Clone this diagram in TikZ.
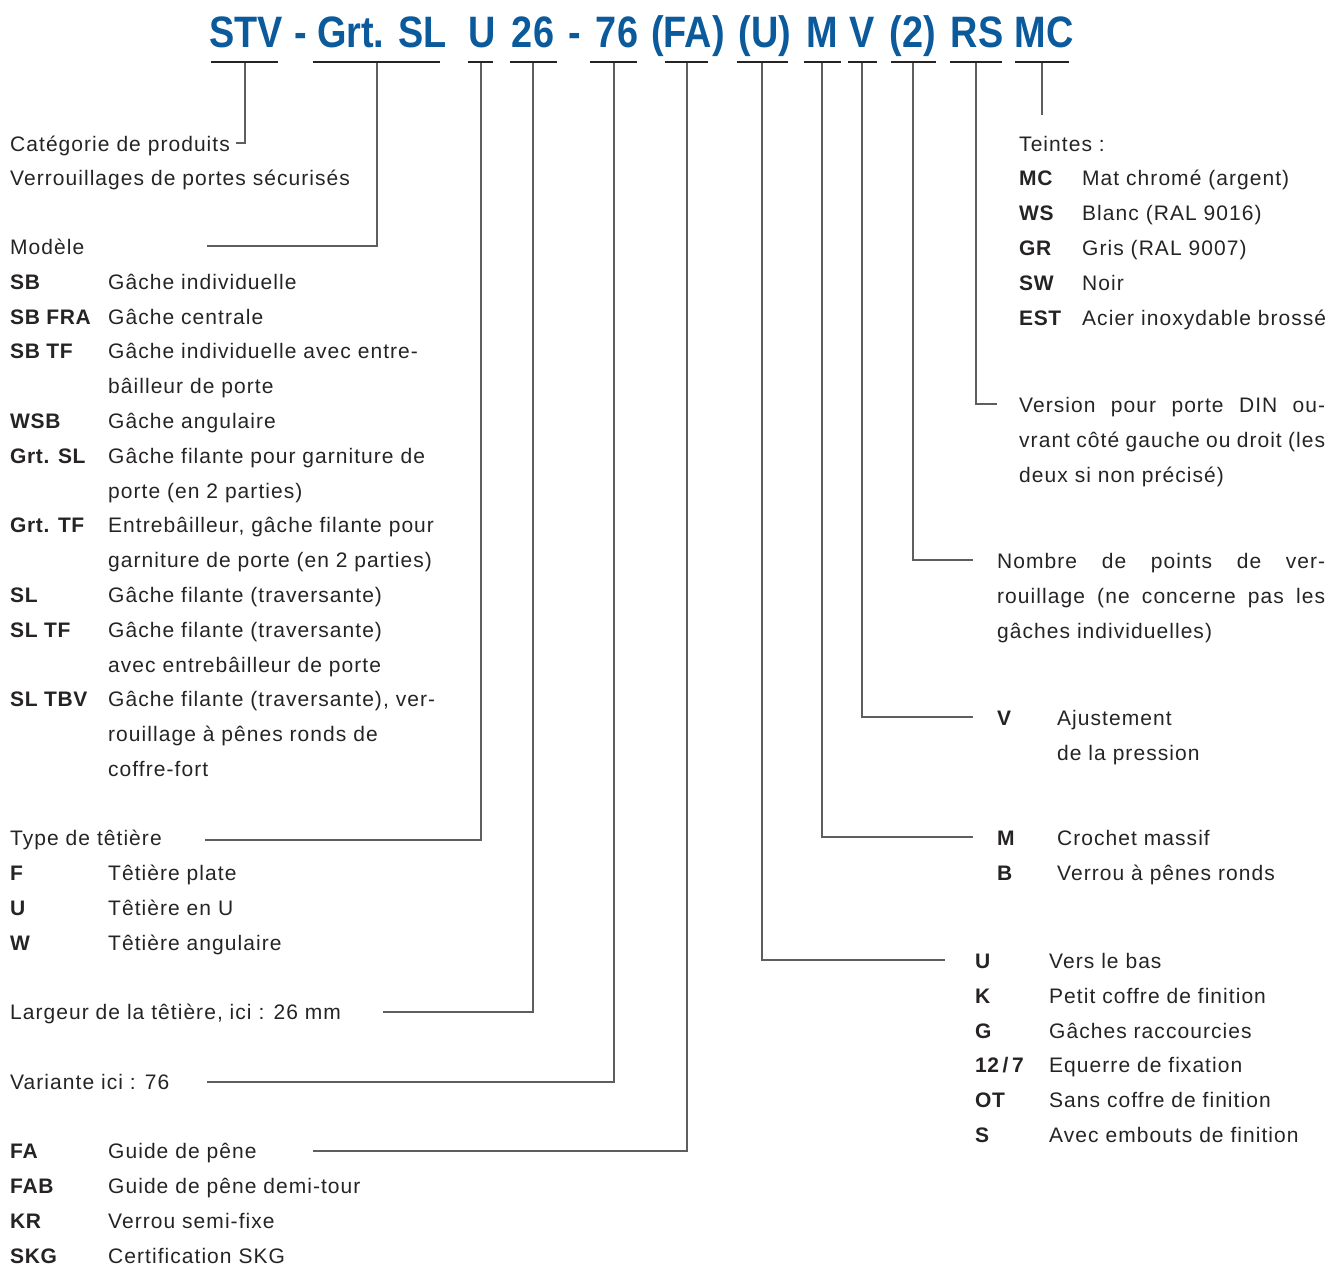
\documentclass[tikz,border=0pt]{standalone}
\usepackage{fontspec}
\setmainfont{Liberation Sans}[LetterSpace=5]
\newfontfamily\codefont{Liberation Sans}[LetterSpace=3]
\newfontfamily\titlefont{Liberation Sans}[FakeStretch=0.86]
\definecolor{tblue}{HTML}{0A5A9C}
\definecolor{txt}{HTML}{262324}
\definecolor{ln}{HTML}{5E5E5E}
\tikzset{
  lbl/.style={anchor=base west, inner sep=0pt, font=\fontsize{21}{25}\selectfont, text=txt},
  code/.style={lbl, font=\codefont\fontsize{21}{25}\selectfont\bfseries},
  ttl/.style={anchor=base, inner sep=0pt, font=\titlefont\fontsize{44}{48}\selectfont\bfseries, text=tblue},
  uline/.style={line width=2.8pt, draw=txt},
  conn/.style={line width=1.2pt, draw=ln}
}
\newcommand{\jl}[2]{\makebox[#1pt][s]{#2}}
\begin{document}
\begin{tikzpicture}[x=1pt,y=-1pt]
\useasboundingbox (0,0) rectangle (1328,1266);
% ---------- title ----------
\node[ttl] (tSTV) at (246,47) {STV};
\node[ttl] (tD1) at (301,47) {-};
\node[ttl] (tGrt) at (382,47) {Grt. SL};
\node[ttl] (tU) at (482,47) {U};
\node[ttl] (t26) at (533,47) {26};
\node[ttl] (tD2) at (575,47) {-};
\node[ttl] (t76) at (617,47) {76};
\node[ttl] (tFA) at (688,47) {(FA)};
\node[ttl] (tUU) at (765,47) {(U)};
\node[ttl] (tM) at (822,47) {M};
\node[ttl] (tV) at (862,47) {V};
\node[ttl] (t2) at (913,47) {(2)};
\node[ttl] (tRS) at (977,47) {RS};
\node[ttl] (tMC) at (1044,47) {MC};
% underlines
\draw[uline] (211,62) -- (278,62);
\draw[uline] (313,62) -- (440,62);
\draw[uline] (468,62) -- (493,62);
\draw[uline] (510,62) -- (557,62);
\draw[uline] (590,62) -- (637,62);
\draw[uline] (665,62) -- (708,62);
\draw[uline] (737,62) -- (788,62);
\draw[uline] (804,62) -- (841,62);
\draw[uline] (848,62) -- (877,62);
\draw[uline] (891,62) -- (936,62);
\draw[uline] (950,62) -- (1002,62);
\draw[uline] (1015,62) -- (1069,62);
% connector start points
\coordinate (cSTV) at (245,63.4);
\coordinate (cGrt) at (377,63.4);
\coordinate (cU) at (481,63.4);
\coordinate (c26) at (533,63.4);
\coordinate (c76) at (614,63.4);
\coordinate (cFA) at (687,63.4);
\coordinate (cUU) at (762,63.4);
\coordinate (cM) at (822,63.4);
\coordinate (cV) at (862,63.4);
\coordinate (c2) at (913,63.4);
\coordinate (cRS) at (976,63.4);
\coordinate (cMC) at (1042,63.4);
% ---------- left column ----------
\node[lbl] (cat1) at (10,151) {Catégorie de produits};
\node[lbl] (cat2) at (10,185) {Verrouillages de portes sécurisés};
\node[lbl] (mod) at (10,254) {Modèle};
\node[code] (kSB) at (10,289) {SB};         \node[lbl] (dSB) at (108,289) {Gâche individuelle};
\node[code] (kSBF) at (10,324) {SB FRA};    \node[lbl] (dSBF) at (108,324) {Gâche centrale};
\node[code] (kSBT) at (10,358) {SB TF};     \node[lbl] (dSBT) at (108,358) {Gâche individuelle avec entre-};
                                            \node[lbl] (dSBT2) at (108,393) {bâilleur de porte};
\node[code] (kWSB) at (10,428) {WSB};       \node[lbl] (dWSB) at (108,428) {Gâche angulaire};
\node[code] (kGSL) at (10,463) {Grt. SL};   \node[lbl] (dGSL) at (108,463) {Gâche filante pour garniture de};
                                            \node[lbl] (dGSL2) at (108,498) {porte (en 2 parties)};
\node[code] (kGTF) at (10,532) {Grt. TF};   \node[lbl] (dGTF) at (108,532) {Entrebâilleur, gâche filante pour};
                                            \node[lbl] (dGTF2) at (108,567) {garniture de porte (en 2 parties)};
\node[code] (kSL) at (10,602) {SL};         \node[lbl] (dSL) at (108,602) {Gâche filante (traversante)};
\node[code] (kSLT) at (10,637) {SL TF};     \node[lbl] (dSLT) at (108,637) {Gâche filante (traversante)};
                                            \node[lbl] (dSLT2) at (108,672) {avec entrebâilleur de porte};
\node[code] (kSLB) at (10,706) {SL TBV};    \node[lbl] (dSLB) at (108,706) {Gâche filante (traversante), ver-};
                                            \node[lbl] (dSLB2) at (108,741) {rouillage à pênes ronds de};
                                            \node[lbl] (dSLB3) at (108,776) {coffre-fort};
\node[lbl] (typ) at (10,845) {Type de têtière};
\node[code] (kF) at (10,880) {F};           \node[lbl] (dF) at (108,880) {Têtière plate};
\node[code] (kU) at (10,915) {U};           \node[lbl] (dU) at (108,915) {Têtière en U};
\node[code] (kW) at (10,950) {W};           \node[lbl] (dW) at (108,950) {Têtière angulaire};
\node[lbl] (larg) at (10,1019) {Largeur de la têtière, ici : 26 mm};
\node[lbl] (var) at (10,1089) {Variante ici : 76};
\node[code] (kFA) at (10,1158) {FA};        \node[lbl] (dFA) at (108,1158) {Guide de pêne};
\node[code] (kFAB) at (10,1193) {FAB};      \node[lbl] (dFAB) at (108,1193) {Guide de pêne demi-tour};
\node[code] (kKR) at (10,1228) {KR};        \node[lbl] (dKR) at (108,1228) {Verrou semi-fixe};
\node[code] (kSKG) at (10,1263) {SKG};      \node[lbl] (dSKG) at (108,1263) {Certification SKG};
% ---------- right column ----------
\node[lbl] (tei) at (1019,151) {Teintes :};
\node[code] (kMC) at (1019,185) {MC};       \node[lbl] (dMC) at (1082,185) {Mat chromé (argent)};
\node[code] (kWS) at (1019,220) {WS};       \node[lbl] (dWS) at (1082,220) {Blanc (RAL 9016)};
\node[code] (kGR) at (1019,255) {GR};       \node[lbl] (dGR) at (1082,255) {Gris (RAL 9007)};
\node[code] (kSW) at (1019,290) {SW};       \node[lbl] (dSW) at (1082,290) {Noir};
\node[code] (kEST) at (1019,325) {EST};     \node[lbl] (dEST) at (1082,325) {Acier inoxydable brossé};
\node[lbl] (ver1) at (1019,412) {\jl{306}{Version pour porte DIN ou-}};
\node[lbl] (ver2) at (1019,447) {\jl{306}{vrant côté gauche ou droit (les}};
\node[lbl] (ver3) at (1019,482) {deux si non précisé)};
\node[lbl] (nb1) at (997,568) {\jl{328}{Nombre de points de ver-}};
\node[lbl] (nb2) at (997,603) {\jl{328}{rouillage (ne concerne pas les}};
\node[lbl] (nb3) at (997,638) {gâches individuelles)};
\node[code] (kV) at (997,725) {V};          \node[lbl] (dV) at (1057,725) {Ajustement};
                                            \node[lbl] (dV2) at (1057,760) {de la pression};
\node[code] (kM) at (997,845) {M};          \node[lbl] (dM) at (1057,845) {Crochet massif};
\node[code] (kB) at (997,880) {B};          \node[lbl] (dB) at (1057,880) {Verrou à pênes ronds};
\node[code] (kUU) at (975,968) {U};         \node[lbl] (dUU) at (1049,968) {Vers le bas};
\node[code] (kK) at (975,1003) {K};         \node[lbl] (dK) at (1049,1003) {Petit coffre de finition};
\node[code] (kG) at (975,1038) {G};         \node[lbl] (dG) at (1049,1038) {Gâches raccourcies};
\node[code] (k12) at (975,1072) {12\,/\,7}; \node[lbl] (d12) at (1049,1072) {Equerre de fixation};
\node[code] (kOT) at (975,1107) {OT};       \node[lbl] (dOT) at (1049,1107) {Sans coffre de finition};
\node[code] (kS) at (975,1142) {S};         \node[lbl] (dS) at (1049,1142) {Avec embouts de finition};
% ---------- connectors ----------
\coordinate (eSTV) at (236,143);
\coordinate (eGrt) at (207,246);
\coordinate (eU) at (205,840);
\coordinate (e26) at (383,1012);
\coordinate (e76) at (207,1082);
\coordinate (eFA) at (313,1151);
\coordinate (eUU) at (945,960);
\coordinate (eM) at (973,837);
\coordinate (eV) at (973,717);
\coordinate (e2) at (973,560);
\coordinate (eRS) at (997,404);
\coordinate (eMC) at (1042,115);
\draw[conn] (cSTV) |- (eSTV);
\draw[conn] (cGrt) |- (eGrt);
\draw[conn] (cU) |- (eU);
\draw[conn] (c26) |- (e26);
\draw[conn] (c76) |- (e76);
\draw[conn] (cFA) |- (eFA);
\draw[conn] (cUU) |- (eUU);
\draw[conn] (cM) |- (eM);
\draw[conn] (cV) |- (eV);
\draw[conn] (c2) |- (e2);
\draw[conn] (cRS) |- (eRS);
\draw[conn] (cMC) -- (eMC);
\end{tikzpicture}
\end{document}
